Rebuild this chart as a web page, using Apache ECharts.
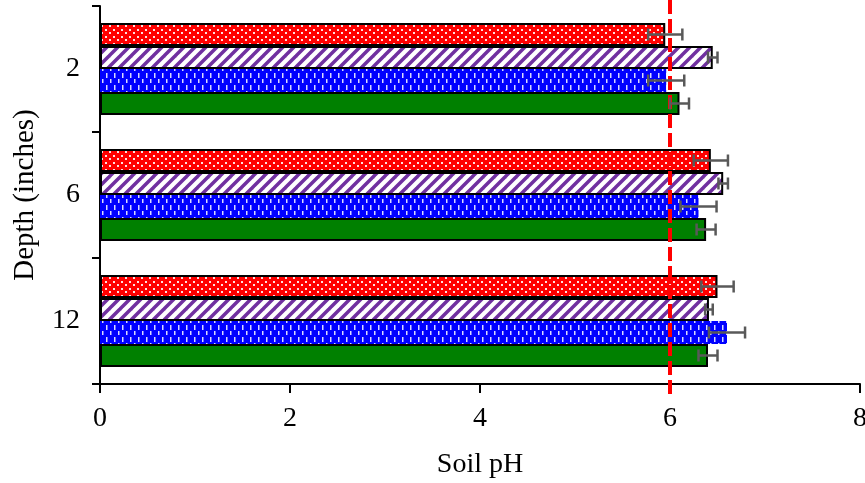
<!DOCTYPE html>
<html>
<head>
<meta charset="utf-8">
<script src="https://cdn.jsdelivr.net/npm/echarts@6/dist/echarts.min.js"></script>
<style>
html,body{margin:0;padding:0;background:#fff;}
#chart{width:865px;height:483px;}
</style>
</head>
<body>
<div id="chart"></div>
<script>
// ---- data ----
var depths = ['2', '6', '12'];
var xTicks = [0, 2, 4, 6, 8];
var redVals    = [5.95, 6.43, 6.50];
var redErr     = [0.18, 0.18, 0.17];
var purpleVals = [6.45, 6.56, 6.41];
var purpleErr  = [0.05, 0.05, 0.04];
var blueVals   = [5.96, 6.30, 6.60];
var blueErr    = [0.19, 0.19, 0.19];
var greenVals  = [6.10, 6.38, 6.40];
var greenErr   = [0.10, 0.10, 0.10];
var thresholdPH = 6;

// ---- patterns ----
function makeCanvas(w, h, draw) {
  var c = document.createElement('canvas');
  c.width = w; c.height = h;
  draw(c.getContext('2d'), w, h);
  return c;
}
var redPattern = makeCanvas(8, 7, function (g, w, h) {
  g.fillStyle = '#FF0000'; g.fillRect(0, 0, w, h);
  g.fillStyle = '#FFE0E0';
  g.fillRect(1, 1, 2, 2);
  g.fillRect(5, 4, 2, 2);
});
var purplePattern = makeCanvas(11, 11, function (g, w, h) {
  g.fillStyle = '#FFFFFF'; g.fillRect(0, 0, w, h);
  g.strokeStyle = '#7030A0'; g.lineWidth = 3.5;
  for (var k = -1; k <= 1; k++) {
    g.beginPath();
    g.moveTo(k * w - 1, h + 1);
    g.lineTo(k * w + w + 1, -1);
    g.stroke();
  }
});
var bluePattern = makeCanvas(8, 12, function (g, w, h) {
  g.fillStyle = '#0000FF'; g.fillRect(0, 0, w, h);
  g.fillStyle = '#D8D8FF';
  g.fillRect(2, 1, 1.5, 5);
  g.fillRect(6, 7, 1.5, 4);
});

var barW = 23;
var series = [];
var specs = [
  {name: 'Red', vals: redVals, err: redErr, fill: {image: redPattern, repeat: 'repeat'}, border: '#000', bw: 2},
  {name: 'Purple', vals: purpleVals, err: purpleErr, fill: {image: purplePattern, repeat: 'repeat'}, border: '#000', bw: 2},
  {name: 'Blue', vals: blueVals, err: blueErr, fill: {image: bluePattern, repeat: 'repeat'}, border: '#0000FF', bw: 0},
  {name: 'Green', vals: greenVals, err: greenErr, fill: '#008000', border: '#000', bw: 2}
];
var errData = [];
specs.forEach(function (s, si) {
  series.push({
    name: s.name,
    type: 'bar',
    barWidth: barW,
    barGap: '0%',
    z: 2,
    itemStyle: {color: s.fill, borderColor: s.border, borderWidth: s.bw},
    emphasis: {disabled: true},
    data: s.vals
  });
  s.vals.forEach(function (v, ci) {
    errData.push([v, ci, s.err[ci], si]);
  });
});

series.push({
  name: 'threshold',
  type: 'custom',
  z: 3,
  clip: false,
  silent: true,
  encode: {x: 0, y: 1},
  data: [[thresholdPH, 0]],
  renderItem: function (params, api) {
    var cs = params.coordSys;
    var x = api.coord([api.value(0), 0])[0];
    return {
      type: 'line',
      shape: {x1: x, y1: cs.y - 6, x2: x, y2: cs.y + cs.height + 12},
      style: {stroke: '#FF0000', lineWidth: 4, lineDash: [14, 5]}
    };
  }
});

series.push({
  name: 'error',
  type: 'custom',
  z: 4,
  silent: true,
  encode: {x: 0, y: 1},
  data: errData,
  renderItem: function (params, api) {
    var v = api.value(0), ci = api.value(1), e = api.value(2), si = api.value(3);
    var c = api.coord([v, ci]);
    var y = c[1] - 2 * barW + (si + 0.5) * barW;
    var x1 = api.coord([v - e, ci])[0];
    var x2 = api.coord([v + e, ci])[0];
    var cap = 6;
    var st = {stroke: '#595959', lineWidth: 2.5};
    return {
      type: 'group',
      children: [
        {type: 'line', shape: {x1: x1, y1: y, x2: x2, y2: y}, style: st},
        {type: 'line', shape: {x1: x1, y1: y - cap, x2: x1, y2: y + cap}, style: st},
        {type: 'line', shape: {x1: x2, y1: y - cap, x2: x2, y2: y + cap}, style: st}
      ]
    };
  }
});

var font = '"Liberation Serif", "Times New Roman", Times, serif';
var chart = echarts.init(document.getElementById('chart'), null, {renderer: 'canvas'});
chart.setOption({
  animation: false,
  backgroundColor: '#fff',
  textStyle: {fontFamily: font},
  grid: {left: 100, right: 5, top: 6, bottom: 99, containLabel: false, outerBoundsMode: 'none'},
  xAxis: {
    type: 'value',
    min: xTicks[0],
    max: xTicks[xTicks.length - 1],
    interval: xTicks[1] - xTicks[0],
    name: 'Soil pH',
    nameLocation: 'middle',
    nameGap: 67,
    nameTextStyle: {fontFamily: font, fontSize: 28, color: '#000'},
    axisLine: {show: true, lineStyle: {color: '#000', width: 2}},
    axisTick: {show: true, length: 9, lineStyle: {color: '#000', width: 2}},
    axisLabel: {fontFamily: font, fontSize: 28, color: '#000', margin: 21},
    splitLine: {show: false}
  },
  yAxis: {
    type: 'category',
    data: depths,
    inverse: true,
    name: 'Depth (inches)',
    nameLocation: 'middle',
    nameGap: 60,
    nameRotate: 90,
    nameTextStyle: {fontFamily: font, fontSize: 29, color: '#000'},
    axisLine: {show: true, lineStyle: {color: '#000', width: 2}},
    axisTick: {show: true, length: 8, lineStyle: {color: '#000', width: 2}},
    axisLabel: {fontFamily: font, fontSize: 28, color: '#000', margin: 20},
    splitLine: {show: false}
  },
  series: series
});
</script>
</body>
</html>
